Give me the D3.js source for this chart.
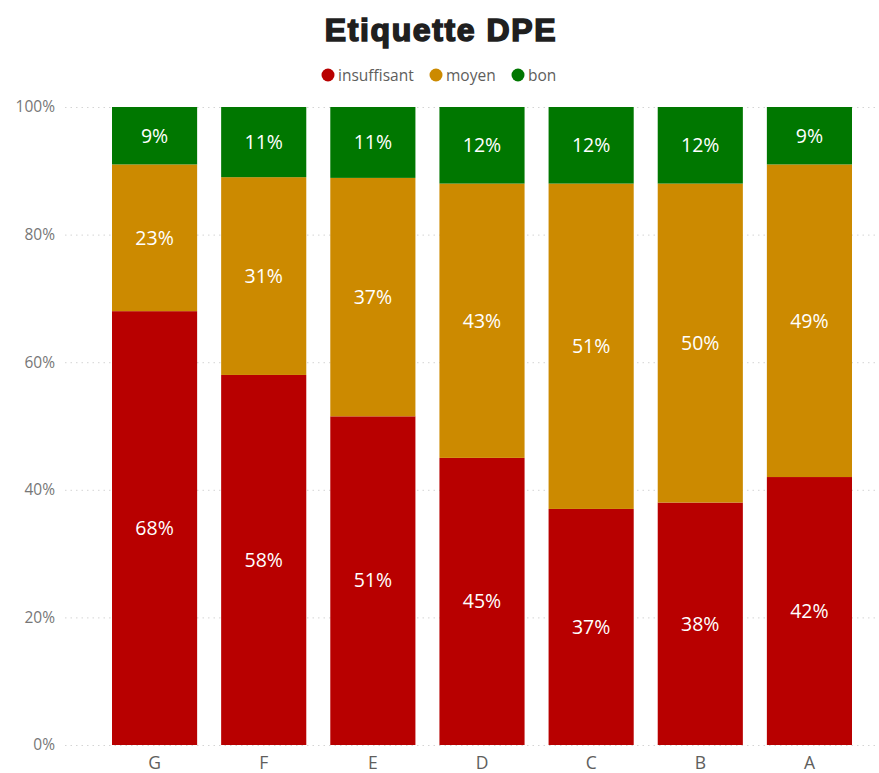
<!DOCTYPE html>
<html>
<head>
<meta charset="utf-8">
<script src="https://cdn.jsdelivr.net/npm/d3@7"></script>
<style>
  html, body { margin: 0; padding: 0; background: #ffffff; }
  svg { display: block; }
</style>
</head>
<body>
<svg id="chart" width="879" height="773"></svg>
<script>
// DPE label classes, left to right
const classes = ["G", "F", "E", "D", "C", "B", "A"];
// Share of each rating per class (%)
const insuffisant = [68, 58, 51, 45, 37, 38, 42];
const moyen       = [23, 31, 37, 43, 51, 50, 49];
const bon         = [9, 11, 11, 12, 12, 12, 9];

const seriesNames  = ["insuffisant", "moyen", "bon"];
const seriesColors = ["#B80000", "#CC8A00", "#007700"];
const yTicks = [0, 0.2, 0.4, 0.6, 0.8, 1];

const rows = classes.map((c, i) => ({
  classe: c, insuffisant: insuffisant[i], moyen: moyen[i], bon: bon[i]
}));

const svg = d3.select("#chart");
const font = "'Segoe UI', 'Open Sans', 'Noto Sans', sans-serif";

const x = d3.scaleBand().domain(classes).range([100, 864])
  .paddingInner(0.22).paddingOuter(0.11);
const y = d3.scaleLinear().domain([0, 1]).range([745, 107]);
const color = d3.scaleOrdinal().domain(seriesNames).range(seriesColors);

// Title
svg.append("text")
  .attr("x", 441).attr("y", 41)
  .attr("text-anchor", "middle")
  .style("font-family", "'Arial Black', 'Liberation Sans', Arial, sans-serif")
  .style("font-weight", 900)
  .style("font-size", "32px")
  .style("letter-spacing", "1.6px")
  .style("fill", "#1f1f1f")
  .style("stroke", "#1f1f1f").style("stroke-width", 1.6)
  .style("paint-order", "stroke")
  .text("Etiquette DPE");

// Legend
const legendItems = [
  { name: "insuffisant", cx: 328 },
  { name: "moyen", cx: 436 },
  { name: "bon", cx: 518 }
];
const lg = svg.append("g");
legendItems.forEach(d => {
  lg.append("circle").attr("cx", d.cx).attr("cy", 75).attr("r", 6.5)
    .attr("fill", color(d.name));
  lg.append("text").attr("x", d.cx + 10).attr("y", 80.5)
    .style("font-family", font).style("font-size", "15.5px")
    .style("fill", "#605E5C").text(d.name);
});

// Y axis with dotted gridlines
const yAxis = d3.axisLeft(y).tickValues(yTicks)
  .tickFormat(d3.format(".0%")).tickSize(0).tickPadding(10);
const gy = svg.append("g").attr("transform", "translate(65,0)").call(yAxis);
gy.select(".domain").remove();
gy.selectAll("text").style("font-family", font).style("font-size", "15.5px")
  .style("fill", "#777777");
gy.selectAll(".tick").append("line")
  .attr("x1", 0).attr("x2", 812)
  .attr("stroke", "#d4d4d4").attr("stroke-width", 1)
  .attr("stroke-dasharray", "1.5,4");

// Stacked bars normalised to 100%
const stack = d3.stack().keys(seriesNames).offset(d3.stackOffsetExpand);
const layers = stack(rows);

const gl = svg.append("g").selectAll("g").data(layers).join("g")
  .attr("fill", d => color(d.key));
gl.selectAll("rect").data(d => d.map(p => ({ p, key: d.key }))).join("rect")
  .attr("x", d => x(d.p.data.classe))
  .attr("width", x.bandwidth())
  .attr("y", d => y(d.p[1]))
  .attr("height", d => y(d.p[0]) - y(d.p[1]));

// Value labels
gl.selectAll("text").data(d => d.map(p => ({ p, key: d.key }))).join("text")
  .attr("x", d => x(d.p.data.classe) + x.bandwidth() / 2)
  .attr("y", d => (y(d.p[0]) + y(d.p[1])) / 2)
  .attr("dy", "0.35em")
  .attr("text-anchor", "middle")
  .style("font-family", font).style("font-size", "19.5px")
  .style("fill", "#ffffff")
  .text(d => d.p.data[d.key] + "%");

// X axis
const xAxis = d3.axisBottom(x).tickSize(0).tickPadding(12);
const gx = svg.append("g").attr("transform", "translate(0,745)").call(xAxis);
gx.select(".domain").remove();
gx.selectAll("text").style("font-family", font).style("font-size", "17.5px")
  .style("fill", "#605E5C");
</script>
</body>
</html>
